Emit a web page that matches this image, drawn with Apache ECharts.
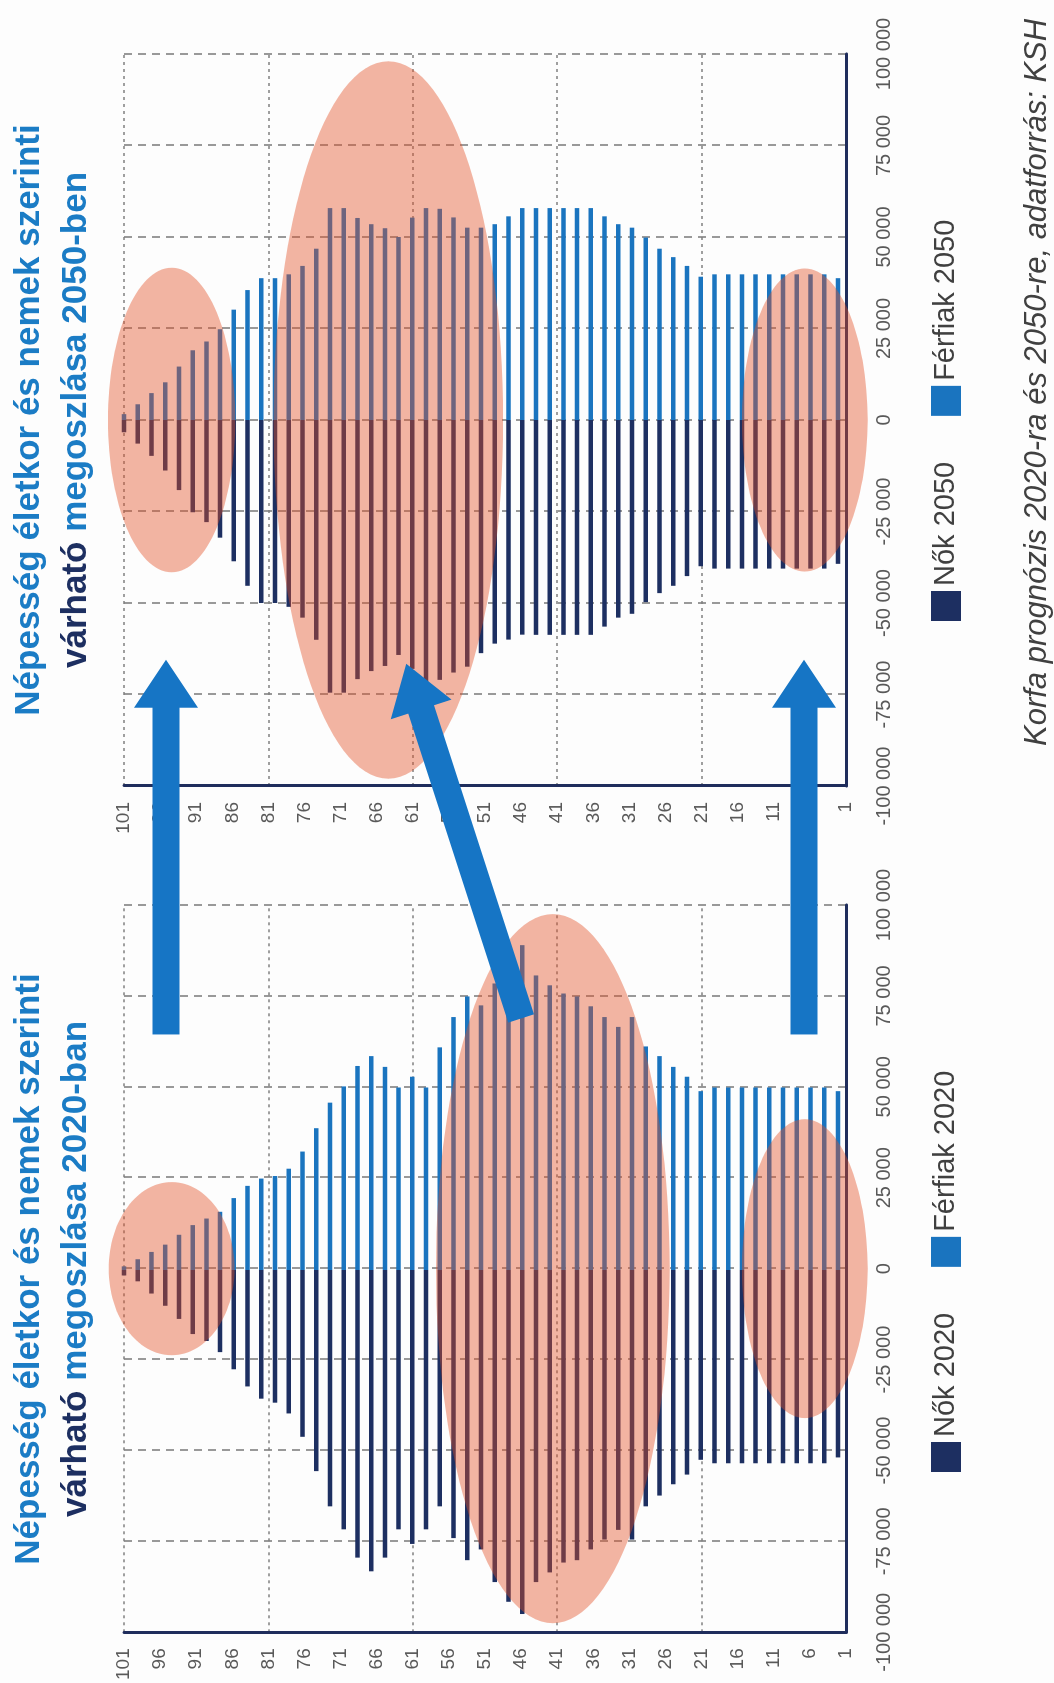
<!DOCTYPE html>
<html>
<head>
<meta charset="utf-8">
<script src="https://cdn.jsdelivr.net/npm/echarts@6/dist/echarts.min.js"></script>
<style>
  html, body { margin: 0; padding: 0; width: 1054px; height: 1683px; overflow: hidden; background: #fdfdfd; }
  #wrap { position: absolute; left: 0; top: 0; width: 1683px; height: 1054px;
          transform-origin: 0 0; transform: translate(0, 1683px) rotate(-90deg); }
  #chart { width: 1683px; height: 1054px; }
</style>
</head>
<body>
<div id="wrap"><div id="chart"></div></div>
<script>
// ---------- DATA ----------
// bar categories (approximate age of each bar, oldest first)
const barAges = ['101','99','97','95','93','91','90','88','86','84','82','80','78','76','74','72',
  '71','69','67','65','63','61','59','57','55','53','52','50','48','46','44','42','40','38','36','34',
  '33','31','29','27','25','23','21','19','17','15','14','12','10','8','6','4','2'];

// age axis tick labels (1 ... 101)
const ageLabels = [];
for (let a = 1; a <= 101; a++) ageLabels.push(String(a));

// value axis tick values
const valueTicks = [-100000, -75000, -50000, -25000, 0, 25000, 50000, 75000, 100000];

const nok2020 = [1500, 3100, 6450, 9800, 13400, 17550, 19450, 22500, 27200, 31900,
  35250, 36350, 39300, 45700, 55100, 64750, 71050, 78800, 82550, 78800,
  71050, 75050, 71050, 64750, 73450, 79500, 76550, 85500, 90900, 94250,
  85500, 82850, 80150, 79500, 76550, 73850, 71200, 73850, 64750, 61800,
  58700, 56050, 52000, 52950, 52950, 52950, 52950, 52950, 52950, 52950, 52950, 52950, 51350];

const ferfiak2020 = [1000, 2950, 4950, 6950, 9650, 12300, 14100, 15950, 19700, 23050,
  25050, 25750, 27750, 32450, 38850, 45850, 50300, 55900, 58600, 55650,
  50000, 52950, 50000, 61000, 69300, 74950, 72500, 78500, 84000, 89000,
  80700, 78000, 75750, 74950, 72250, 69300, 66600, 69300, 61250, 58600,
  55650, 52950, 49000, 50000, 50000, 50000, 50000, 50000, 50000, 50000, 50000, 50000, 49000];

const nok2050 = [3350, 6450, 9800, 13800, 19150, 25200, 27900, 32150, 38600, 45300,
  50000, 50000, 51050, 54000, 60050, 74500, 74500, 70800, 68600, 67200,
  64200, 68000, 72500, 71000, 69000, 67400, 63700, 61100, 60000, 58650,
  58700, 58700, 58700, 58700, 58700, 56450, 54000, 52950, 49750, 47300,
  45300, 42650, 39950, 40600, 40600, 40600, 40600, 40600, 40600, 40600, 40600, 40600, 39300];

const ferfiak2050 = [1600, 4300, 7350, 10300, 14600, 19050, 21450, 24800, 30150, 35500,
  38750, 38750, 39800, 42100, 46800, 57900, 57900, 55200, 53500, 52400,
  50000, 55300, 57900, 57700, 55350, 52550, 52550, 53500, 55650, 57900,
  57900, 57900, 57900, 57900, 57900, 55650, 53500, 52550, 49850, 46800,
  44500, 42100, 39150, 39800, 39800, 39800, 39800, 39800, 39800, 39800, 39800, 39800, 38750];

// highlighted regions (age centre / half span, value half span) and arrows (from 2020 to 2050)
const highlights2020 = [
  { age: 94.4, ageHalf: 8.7, valueHalf: 23800 },
  { age: 41.6, ageHalf: 16.2, valueHalf: 97500 },
  { age: 6.7, ageHalf: 8.7, valueHalf: 41100 }
];
const highlights2050 = [
  { age: 94.4, ageHalf: 8.8, valueHalf: 41600 },
  { age: 64.4, ageHalf: 15.9, valueHalf: 98000 },
  { age: 6.7, ageHalf: 8.7, valueHalf: 41400 }
];
const arrows = [
  { fromAge: 95.2, fromValue: 64400, toAge: 95.2, toValue: -65500 },
  { fromAge: 46.0, fromValue: 68800, toAge: 61.9, toValue: -66600 },
  { fromAge: 6.8, fromValue: 64400, toAge: 6.8, toValue: -65500 }
];

// ---------- STYLE ----------
const FONT = 'Liberation Sans, Arial, sans-serif';
const NAVY = '#1d2f61';
const BLUE = '#1a74bf';
const AXIS = '#1f2d5c';
const GRIDC = '#808080';
const LABEL = '#595959';
const TBLUE = '#1b7cc5';
const ARROW = '#1675c5';
const HL = 'rgba(226,78,36,0.42)';

function fmt(v) {
  const s = String(Math.abs(v)).replace(/\B(?=(\d{3})+(?!\d))/g, ' ');
  return (v < 0 ? '-' : '') + s;
}

const chart = echarts.init(document.getElementById('chart'), null, { renderer: 'canvas' });

function valueAxisVisible(gridIndex) {
  return {
    type: 'value', gridIndex: gridIndex,
    min: valueTicks[0], max: valueTicks[valueTicks.length - 1], interval: 25000,
    axisLine: { show: true, onZero: false, lineStyle: { color: AXIS, width: 3 } },
    axisTick: { show: false },
    axisLabel: { fontSize: 20, color: LABEL, margin: 28, fontFamily: FONT, formatter: fmt },
    splitLine: { show: true, lineStyle: { color: GRIDC, width: 1.6, type: [8, 6] } }
  };
}
function valueAxisHidden(gridIndex) {
  return { type: 'value', gridIndex: gridIndex, min: -100000, max: 100000, show: false,
           splitLine: { show: false } };
}
function ageAxisVisible(gridIndex) {
  return {
    type: 'category', gridIndex: gridIndex, data: ageLabels, boundaryGap: false,
    axisLine: { show: true, onZero: false, lineStyle: { color: AXIS, width: 3 } },
    axisTick: { show: false },
    axisLabel: { interval: 4, fontSize: 19, color: LABEL, margin: 16, fontFamily: FONT },
    splitLine: { show: true, interval: 19, lineStyle: { color: GRIDC, width: 1.6, type: [3, 4] } }
  };
}
function barAxisHidden(gridIndex) {
  return { type: 'category', gridIndex: gridIndex, data: barAges, boundaryGap: false,
           inverse: true, show: false };
}
function titleRich() {
  return {
    a: { fontSize: 35, fontWeight: 'bold', color: TBLUE, lineHeight: 47, fontFamily: FONT },
    b: { fontSize: 35, fontWeight: 'bold', color: NAVY, lineHeight: 47, fontFamily: FONT }
  };
}
function barSeries(name, data, xi, yi, color) {
  return { name: name, type: 'bar', xAxisIndex: xi, yAxisIndex: yi, data: data,
           barWidth: 4.5, barGap: '-100%', itemStyle: { color: color }, z: 2 };
}

const option = {
  animation: false,
  backgroundColor: '#fdfdfd',
  textStyle: { fontFamily: FONT },
  title: [
    { text: '{a|Népesség életkor és nemek szerinti}\n{b|várható}{a| megoszlása 2020-ban}',
      left: 414, top: 6, textAlign: 'center', padding: 0,
      textStyle: { rich: titleRich() } },
    { text: '{a|Népesség életkor és nemek szerinti}\n{b|várható}{a| megoszlása 2050-ben}',
      left: 1263, top: 6, textAlign: 'center', padding: 0,
      textStyle: { rich: titleRich() } },
    { text: 'Korfa prognózis 2020-ra és 2050-re, adatforrás: KSH',
      left: 937, top: 1022, padding: 0,
      textStyle: { fontSize: 31, fontStyle: 'italic', fontWeight: 'normal', color: '#404040', fontFamily: FONT } }
  ],
  legend: [
    { data: ['Nők 2020', 'Férfiak 2020'], left: 211, top: 931, padding: 0,
      itemWidth: 30, itemHeight: 30, itemGap: 46, icon: 'rect', selectedMode: false,
      textStyle: { fontSize: 29, color: '#404040', fontFamily: FONT } },
    { data: ['Nők 2050', 'Férfiak 2050'], left: 1062, top: 931, padding: 0,
      itemWidth: 30, itemHeight: 30, itemGap: 46, icon: 'rect', selectedMode: false,
      textStyle: { fontSize: 29, color: '#404040', fontFamily: FONT } }
  ],
  grid: [
    { left: 48, right: 905, top: 124, bottom: 216 },   // 2020 bars
    { left: 48, right: 905, top: 124, bottom: 208 },   // 2020 axes
    { left: 897, right: 54, top: 124, bottom: 216 },   // 2050 bars
    { left: 897, right: 54, top: 124, bottom: 208 }    // 2050 axes
  ],
  xAxis: [valueAxisHidden(0), valueAxisVisible(1), valueAxisHidden(2), valueAxisVisible(3)],
  yAxis: [barAxisHidden(0), ageAxisVisible(1), barAxisHidden(2), ageAxisVisible(3)],
  series: [
    barSeries('Nők 2020', nok2020.map(v => -v), 0, 0, NAVY),
    barSeries('Férfiak 2020', ferfiak2020, 0, 0, BLUE),
    barSeries('Nők 2050', nok2050.map(v => -v), 2, 2, NAVY),
    barSeries('Férfiak 2050', ferfiak2050, 2, 2, BLUE)
  ]
};
chart.setOption(option);

// ---------- annotations positioned through the axes ----------
function valPx(xAxisIndex, v) { return chart.convertToPixel({ xAxisIndex: xAxisIndex }, v); }
function agePx(yAxisIndex, age) {
  const p1 = chart.convertToPixel({ yAxisIndex: yAxisIndex }, 0);
  const p101 = chart.convertToPixel({ yAxisIndex: yAxisIndex }, 100);
  return p1 + (age - 1) / 100 * (p101 - p1);
}
const graphics = [];
function addEllipses(list, xi, yi) {
  list.forEach(h => {
    const cx = valPx(xi, 0);
    const cy = agePx(yi, h.age);
    const rx = Math.abs(valPx(xi, h.valueHalf) - cx);
    const ry = Math.abs(agePx(yi, h.age + h.ageHalf) - cy);
    graphics.push({ type: 'ellipse', z: 50, silent: true,
      shape: { cx: cx, cy: cy, rx: rx, ry: ry }, style: { fill: HL } });
  });
}
addEllipses(highlights2020, 1, 1);
addEllipses(highlights2050, 3, 3);

arrows.forEach(a => {
  const T = [valPx(1, a.fromValue), agePx(1, a.fromAge)];
  const P = [valPx(3, a.toValue), agePx(3, a.toAge)];
  const dx = P[0] - T[0], dy = P[1] - T[1];
  const L = Math.sqrt(dx * dx + dy * dy);
  const d = [dx / L, dy / L], n = [-d[1], d[0]];
  const headLen = 48, headHalf = 32, shaftHalf = 13.5;
  const B = [P[0] - d[0] * headLen, P[1] - d[1] * headLen];
  const pt = (base, k) => [base[0] + n[0] * k, base[1] + n[1] * k];
  graphics.push({ type: 'polygon', z: 60, silent: true,
    shape: { points: [pt(T, shaftHalf), pt(B, shaftHalf), pt(B, headHalf), P,
                      pt(B, -headHalf), pt(B, -shaftHalf), pt(T, -shaftHalf)] },
    style: { fill: ARROW } });
});
chart.setOption({ graphic: graphics });
</script>
</body>
</html>
